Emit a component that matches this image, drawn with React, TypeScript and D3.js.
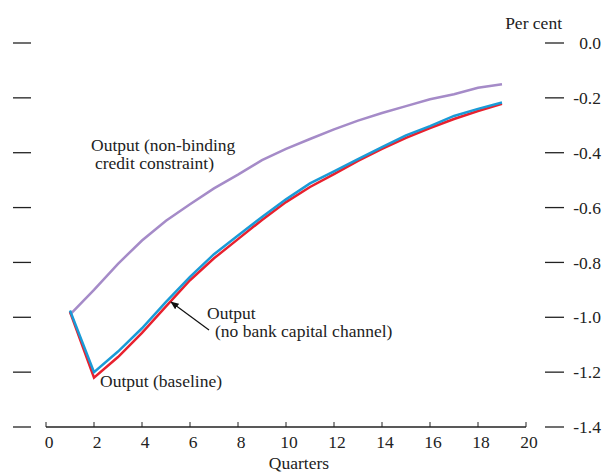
import React from "react";
import * as d3 from "d3";

const quarters = [1, 2, 3, 4, 5, 6, 7, 8, 9, 10, 11, 12, 13, 14, 15, 16, 17, 18, 19];
const baseline = [-0.98, -1.22, -1.145, -1.057, -0.96, -0.865, -0.785, -0.715, -0.645, -0.58, -0.525, -0.478, -0.43, -0.386, -0.346, -0.31, -0.277, -0.248, -0.222];
const noBankCapital = [-0.975, -1.2, -1.125, -1.04, -0.944, -0.853, -0.77, -0.702, -0.634, -0.57, -0.512, -0.468, -0.423, -0.38, -0.337, -0.303, -0.266, -0.24, -0.217];
const nonBinding = [-0.99, -0.9, -0.805, -0.72, -0.648, -0.588, -0.53, -0.48, -0.427, -0.386, -0.35, -0.315, -0.283, -0.255, -0.23, -0.205, -0.187, -0.163, -0.15];
const xTicks = [0, 2, 4, 6, 8, 10, 12, 14, 16, 18, 20];
const yTicks = [0, -0.2, -0.4, -0.6, -0.8, -1.0, -1.2, -1.4];

const FONT = "Liberation Serif, DejaVu Serif, Times New Roman, serif";
const FS = 17.5;
const TFS = 17.5;

export default function App() {
  const W = 602, H = 475;
  const x = d3.scaleLinear().domain([0, 20]).range([46, 526]);
  const y = d3.scaleLinear().domain([0, -1.4]).range([43, 427]);
  const line = d3.line<number>().x((_, i) => x(quarters[i])).y((d) => y(d));

  return (
    <svg width={W} height={H} style={{ position: "absolute", left: 0, top: 0, fontFamily: FONT }}>
      <defs>
        <marker id="ah" viewBox="0 0 10 10" refX="9" refY="5" markerWidth="7" markerHeight="7" orient="auto">
          <path d="M0,1 L10,5 L0,9 Z" fill="#111" />
        </marker>
      </defs>
      {yTicks.map((t) => (
        <g key={t}>
          <line x1={13} x2={31} y1={y(t)} y2={y(t)} stroke="#222" strokeWidth={1.3} />
          <line x1={545} x2={564} y1={y(t)} y2={y(t)} stroke="#222" strokeWidth={1.3} />
          <text x={601} y={y(t)} dy="0.35em" textAnchor="end" fontSize={TFS} fill="#222">
            {t === 0 ? "0.0" : t.toFixed(1)}
          </text>
        </g>
      ))}
      <text x={562} y={29} textAnchor="end" fontSize={FS} fill="#222">Per cent</text>
      <line x1={x(0)} x2={x(20)} y1={y(-1.4)} y2={y(-1.4)} stroke="#222" strokeWidth={1.3} />
      {xTicks.map((t) => (
        <g key={t}>
          <line x1={x(t)} x2={x(t)} y1={y(-1.4)} y2={y(-1.4) - 5} stroke="#222" strokeWidth={1} />
          <text x={x(t) + 3} y={448} textAnchor="middle" fontSize={TFS} fill="#222">{t}</text>
        </g>
      ))}
      <text x={299} y={469} textAnchor="middle" fontSize={FS} fill="#222">Quarters</text>
      <path d={line(nonBinding) || ""} fill="none" stroke="#a58bc8" strokeWidth={2.5} />
      <path d={line(baseline) || ""} fill="none" stroke="#e8212e" strokeWidth={2.5} />
      <path d={line(noBankCapital) || ""} fill="none" stroke="#1a9bd7" strokeWidth={2.5} />
      <line x1={209} y1={330} x2={171} y2={302} stroke="#111" strokeWidth={1.2} markerEnd="url(#ah)" />
      <text fontSize={FS} fill="#222">
        <tspan x={207} y={319}>Output</tspan>
        <tspan x={215} y={337}>(no bank capital channel)</tspan>
      </text>
      <text x={100} y={387} fontSize={FS} fill="#222">Output (baseline)</text>
      <text fontSize={FS} fill="#222">
        <tspan x={91} y={151}>Output (non-binding</tspan>
        <tspan x={95} y={169}>credit constraint)</tspan>
      </text>
    </svg>
  );
}
